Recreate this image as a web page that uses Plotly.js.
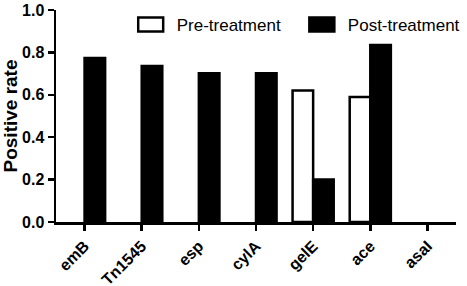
<!DOCTYPE html>
<html>
<head>
<meta charset="utf-8">
<script src="https://cdn.plot.ly/plotly-3.0.1.min.js"></script>
<style>html,body{margin:0;padding:0;background:#fff;}#chart{width:467px;height:286px;}</style>
</head>
<body>
<div id="chart"></div>
<script>
var categories = ["emB", "Tn1545", "esp", "cylA", "gelE", "ace", "asaI"];
var preTreatment = [null, null, null, null, 0.62, 0.59, null];
var postTreatment = [0.773, 0.736, 0.702, 0.702, 0.20, 0.835, null];
var yTickVals = [0, 0.2, 0.4, 0.6, 0.8, 1.0];
var yTickText = ["0.0", "0.2", "0.4", "0.6", "0.8", "1.0"];

var FONT = "Arial, 'Liberation Sans', sans-serif";

var traces = [
  {
    type: "bar", name: "Pre-treatment", x: categories, y: preTreatment, legend: "legend",
    marker: {color: "#ffffff", line: {color: "#000000", width: 2.5}}
  },
  {
    type: "bar", name: "Post-treatment", x: categories, y: postTreatment, legend: "legend2",
    marker: {color: "#000000", line: {color: "#000000", width: 2.5}}
  }
];

function legendAt(xp) {
  return {
    orientation: "h", xref: "paper", yref: "paper",
    x: xp, xanchor: "left", y: 0.929, yanchor: "middle",
    font: {family: FONT, size: 17, color: "#000"},
    bgcolor: "rgba(0,0,0,0)", borderwidth: 0
  };
}

var layout = {
  width: 467, height: 286,
  margin: {l: 56, r: 2, t: 10, b: 63.5},
  paper_bgcolor: "#ffffff", plot_bgcolor: "#ffffff",
  font: {family: FONT, color: "#000000"},
  barmode: "group", bargap: 0.28, bargroupgap: 0,
  showlegend: true,
  legend: legendAt(0.2017),
  legend2: legendAt(0.6296),
  xaxis: {
    type: "category", range: [-0.5, 6.5],
    showline: true, linecolor: "#000", linewidth: 2.5,
    ticks: "outside", ticklen: 6, tickwidth: 2.5, tickcolor: "#000",
    tickangle: -45, showgrid: false, zeroline: false,
    tickfont: {family: FONT, size: 16, color: "#000", weight: "bold"}
  },
  yaxis: {
    range: [0, 1], tickvals: yTickVals, ticktext: yTickText,
    showline: true, linecolor: "#000", linewidth: 2.5,
    ticks: "outside", ticklen: 6, tickwidth: 2.5, tickcolor: "#000",
    showgrid: false, zeroline: false,
    tickfont: {family: FONT, size: 16, color: "#000", weight: "bold"},
    title: {text: "Positive rate", font: {family: FONT, size: 19, color: "#000", weight: "bold"}, standoff: 8}
  }
};

Plotly.newPlot("chart", traces, layout, {displayModeBar: false, staticPlot: true}).then(function(gd){
  var paths = gd.querySelectorAll(".legendpoints path");
  paths.forEach(function(p){
    p.setAttribute("d", "M6.5,7H-18.5V-7H6.5Z");
  });
});
</script>
</body>
</html>
